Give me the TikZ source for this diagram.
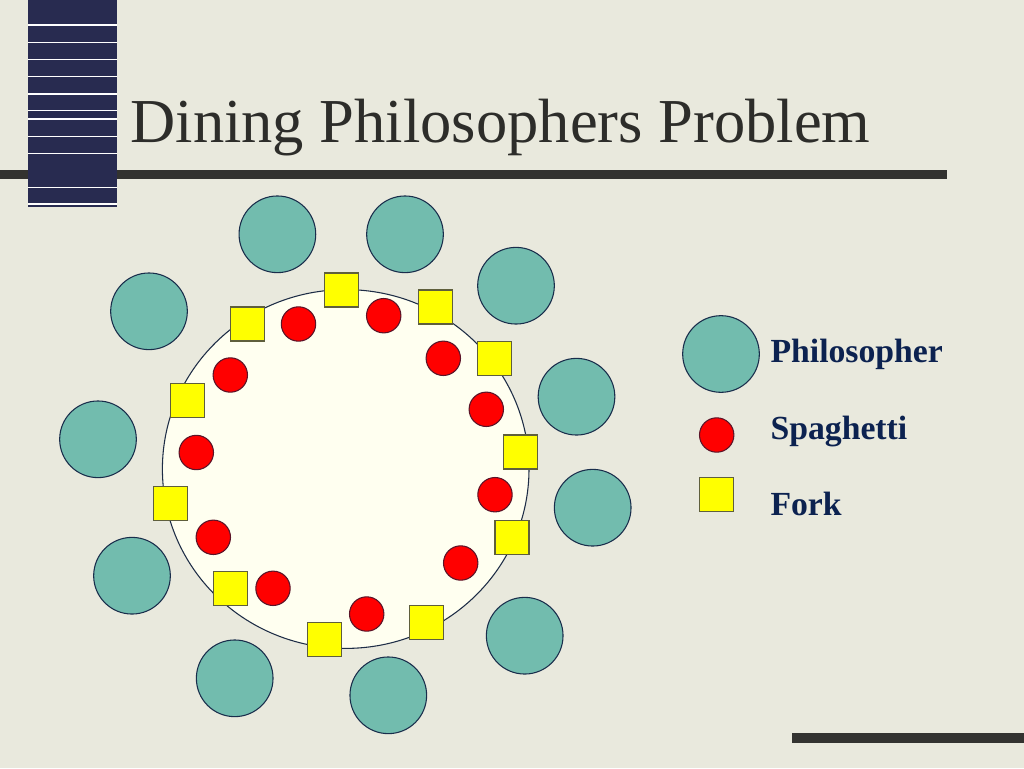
\documentclass[tikz,border=0pt]{standalone}
\usepackage{fontspec}
\setmainfont{Liberation Serif}

\tikzset{every picture/.style={line width=0.75pt}}
\tikzset{
  philo/.style={circle, draw={rgb, 255:red, 25; green, 45; blue, 75 }, fill={rgb, 255:red, 114; green, 188; blue, 174 }, line width=0.8pt, inner sep=0pt, minimum size=57.5pt},
  spag/.style={circle, draw={rgb, 255:red, 90; green, 20; blue, 40 }, fill={rgb, 255:red, 255; green, 0; blue, 0 }, line width=0.8pt, inner sep=0pt, minimum size=25.8pt},
  fork/.style={rectangle, draw={rgb, 255:red, 95; green, 95; blue, 60 }, fill={rgb, 255:red, 255; green, 255; blue, 0 }, line width=0.8pt, inner sep=0pt, minimum size=25.5pt},
  legendtext/.style={anchor=base west, inner sep=0pt, text={rgb, 255:red, 12; green, 34; blue, 80 }, font=\fontsize{25.3}{28}\selectfont\bfseries}
}

\begin{document}
\begin{tikzpicture}[x=0.75pt,y=0.75pt,yscale=-1,xscale=1]
	%Shape: Rectangle [background]
	\fill [color={rgb, 255:red, 233; green, 233; blue, 221 }] (0,0) rectangle (1024,768) ;
	\useasboundingbox (0,0) rectangle (1024,768) ;

	%Straight Lines [title rule]
	\fill [color={rgb, 255:red, 51; green, 51; blue, 48 }] (0,169.5) rectangle (946.5,178.5) ;
	%Straight Lines [bottom rule]
	\fill [color={rgb, 255:red, 51; green, 51; blue, 48 }] (792,733) rectangle (1024,743) ;
	%Shape: Rectangle [striped bar]
	\fill [color={rgb, 255:red, 40; green, 43; blue, 80 }] (28,0) rectangle (117,206.5) ;
	%Straight Lines [stripes]
	\draw [color=white, line width=0.9pt] (28,25) -- (117,25) (28,42.7) -- (117,42.7) (28,59.3) -- (117,59.3) (28,76.7) -- (117,76.7) (28,94) -- (117,94) (28,110.3) -- (117,110.3) (28,119) -- (117,119) (28,136.3) -- (117,136.3) (28,153.7) -- (117,153.7) (28,187.3) -- (117,187.3) (28,204) -- (117,204) ;

	% Text Node
	\draw (130,142) node [anchor=base west, inner sep=0pt, text={rgb, 255:red, 45; green, 45; blue, 42 }, font=\fontsize{46.9}{50}\selectfont] (title) {Dining Philosophers Problem};

	%Shape: Ellipse [table]
	\draw [color={rgb, 255:red, 30; green, 45; blue, 70 }, fill={rgb, 255:red, 255; green, 255; blue, 240 }, line width=0.8pt] (345.7,469) ellipse (183.3 and 179.4) ;
	\coordinate (table) at (345.7,469) ;

	%Shape: Circle [philosophers]
	\draw (277.4,234.3) node [philo] (phil1) {} ;
	\draw (405,234.3) node [philo] (phil2) {} ;
	\draw (516,285.7) node [philo] (phil3) {} ;
	\draw (576.5,396.7) node [philo] (phil4) {} ;
	\draw (592.7,507.7) node [philo] (phil5) {} ;
	\draw (524.7,635.7) node [philo] (phil6) {} ;
	\draw (388.3,695.3) node [philo] (phil7) {} ;
	\draw (234.7,678.3) node [philo] (phil8) {} ;
	\draw (132,575.7) node [philo] (phil9) {} ;
	\draw (98,439.3) node [philo] (phil10) {} ;
	\draw (149,311.3) node [philo] (phil11) {} ;

	%Shape: Circle [spaghetti]
	\draw (298.5,324) node [spag] (spag1) {} ;
	\draw (383.7,315.7) node [spag] (spag2) {} ;
	\draw (443.3,358.3) node [spag] (spag3) {} ;
	\draw (486.3,409.3) node [spag] (spag4) {} ;
	\draw (495,494.7) node [spag] (spag5) {} ;
	\draw (460.7,563) node [spag] (spag6) {} ;
	\draw (366.7,614) node [spag] (spag7) {} ;
	\draw (273,588.3) node [spag] (spag8) {} ;
	\draw (213.3,537.3) node [spag] (spag9) {} ;
	\draw (196.3,452.5) node [spag] (spag10) {} ;
	\draw (230.3,375) node [spag] (spag11) {} ;

	%Shape: Square [forks]
	\draw (341.3,290) node [fork] (fork1) {} ;
	\draw (435.3,307) node [fork] (fork2) {} ;
	\draw (494.7,358.3) node [fork] (fork3) {} ;
	\draw (520.7,452) node [fork] (fork4) {} ;
	\draw (512,537.5) node [fork] (fork5) {} ;
	\draw (426.5,622.7) node [fork] (fork6) {} ;
	\draw (324.3,639.8) node [fork] (fork7) {} ;
	\draw (230.3,588.7) node [fork] (fork8) {} ;
	\draw (170.5,503.3) node [fork] (fork9) {} ;
	\draw (187.7,400.7) node [fork] (fork10) {} ;
	\draw (247.3,324) node [fork] (fork11) {} ;

	%Shape: legend
	\draw (721,354) node [philo] (keyphil) {} ;
	\draw (716.7,435) node [spag] (keyspag) {} ;
	\draw (716.7,494.7) node [fork] (keyfork) {} ;
	% Text Node
	\draw (770,362) node [legendtext] (philtext) {Philosopher};
	% Text Node
	\draw (770,439) node [legendtext] (spagtext) {Spaghetti};
	% Text Node
	\draw (770,515) node [legendtext] (forktext) {Fork};

\end{tikzpicture}
\end{document}
